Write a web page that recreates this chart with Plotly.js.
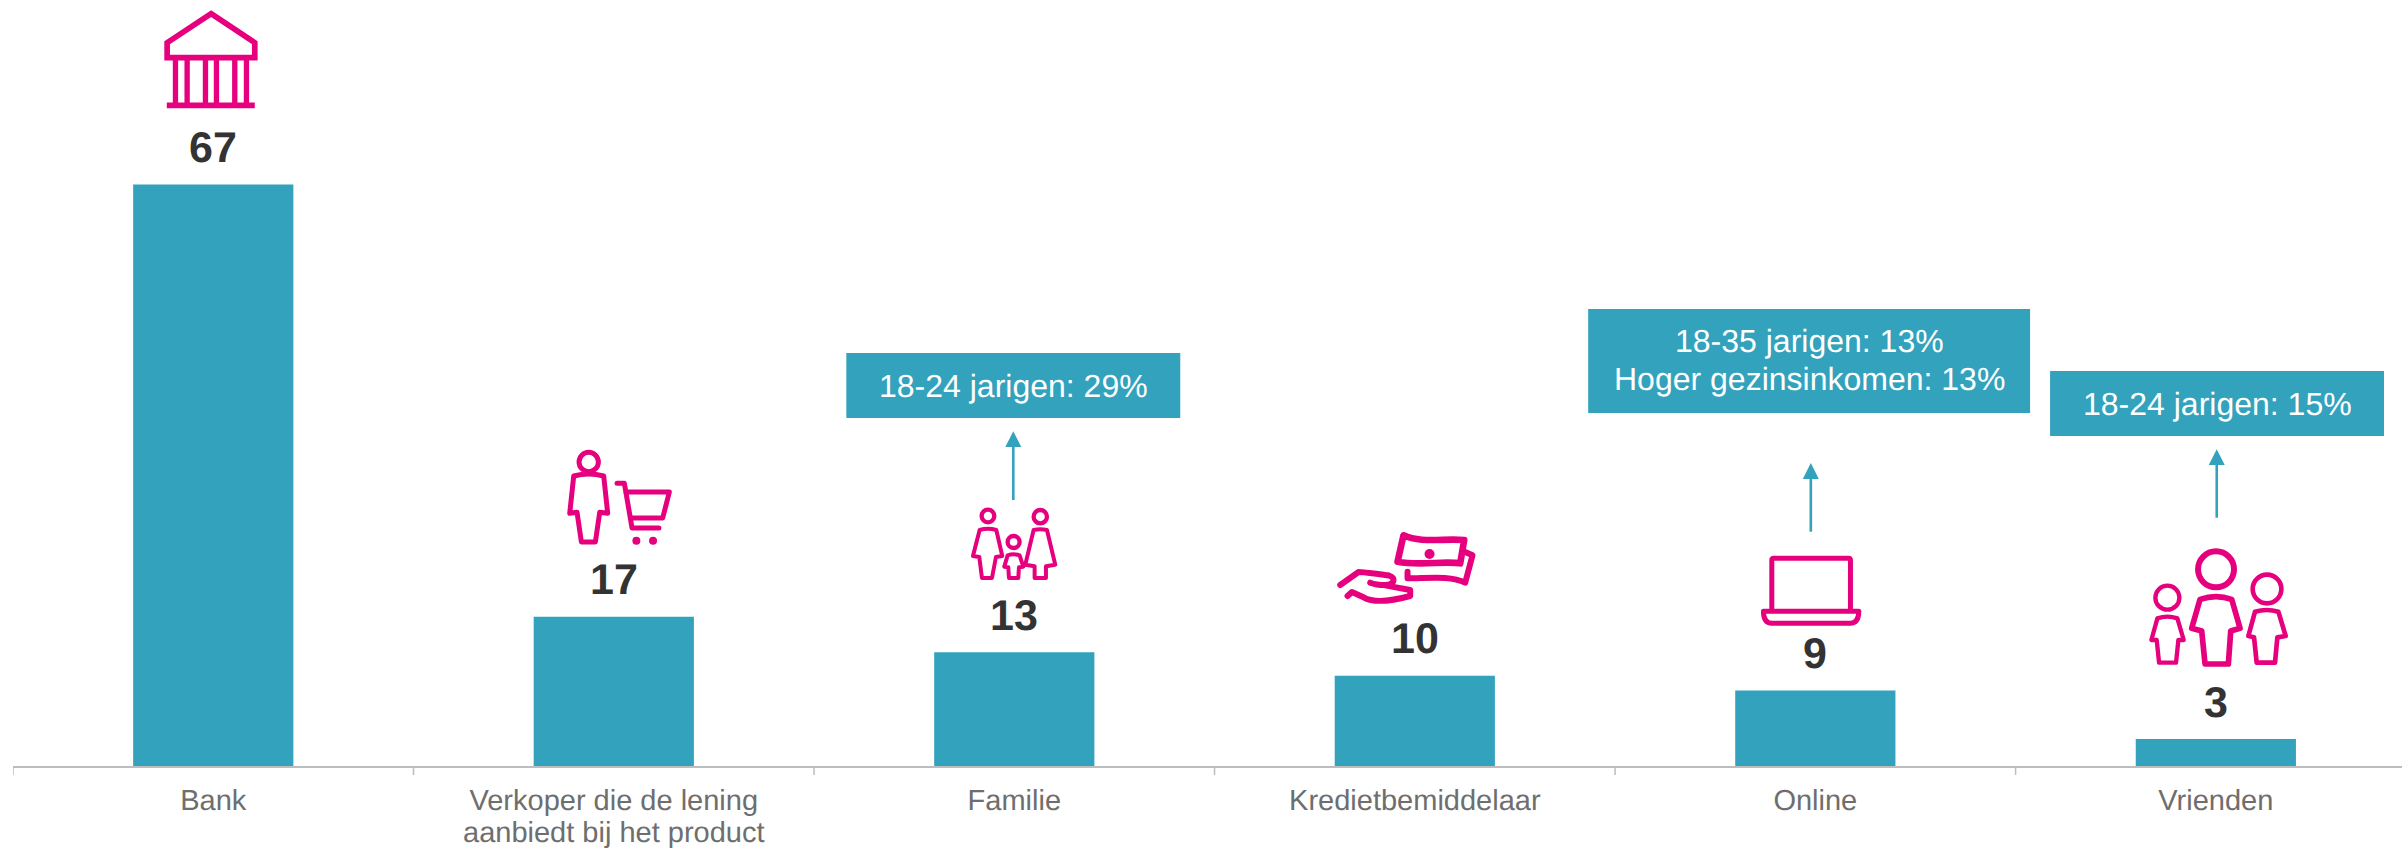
<!DOCTYPE html>
<html><head><meta charset="utf-8">
<script src="https://cdn.plot.ly/plotly-3.0.1.min.js"></script>
<style>html,body{margin:0;padding:0;background:#fff;overflow:hidden}#chart{width:2402px;height:849px}svg text{text-rendering:geometricPrecision}</style>
</head><body><div id="chart"></div>
<script>
const categories = ["Bank","Verkoper die de lening<br>aanbiedt bij het product","Familie","Kredietbemiddelaar","Online","Vrienden"];
const values = [67, 17.2, 13.1, 10.4, 8.7, 3.1];
const valueLabels = ["67","17","13","10","9","3"];
const callout1 = ["18-24 jarigen: 29%"];
const callout2 = ["18-35 jarigen: 13%","Hoger gezinsinkomen: 13%"];
const callout3 = ["18-24 jarigen: 15%"];

const TEAL="#32A2BD", PINK="#E6007E", DARK="#333333", GREY="#6E6E6E", AXIS="#BDBDBD";
const FONT='"Liberation Sans", Arial, sans-serif';
const W=2402,H=849,L=12.5,AX=766, PW=W-L, UNIT=400.6, YSCALE=581.4/67;
const px=x=>(x-L)/PW, py=y=>1-y/AX;

function icon(vw,vh,body,x,y,w,h){
  const svg=`<svg xmlns="http://www.w3.org/2000/svg" width="${vw}" height="${vh}" viewBox="0 0 ${vw} ${vh}"><g fill="none" stroke="${PINK}" stroke-linejoin="round" stroke-linecap="round">${body}</g></svg>`;
  return {source:'data:image/svg+xml;charset=utf-8,'+encodeURIComponent(svg),xref:'paper',yref:'paper',x:px(x),y:py(y),sizex:w/PW,sizey:h/AX,xanchor:'left',yanchor:'top',sizing:'stretch',layer:'above'};
}
const dot=(c,r,f)=>`<circle cx="${c[0]}" cy="${c[1]}" r="${r}" fill="${f}" stroke="none"/>`;
const images=[
 icon(600,600,`<path d="M272 41L403 128V173H140V128Z" stroke-width="17" stroke-linejoin="miter"/>
  <path d="M165 175V315M200 175V315M255 175V315M288 175V315M343 175V315M378 175V315" stroke-width="16" stroke-linecap="butt"/>
  <path d="M139 316H403" stroke-width="17" stroke-linecap="butt"/>`,120,0,200,200),
 icon(600,600,`<circle cx="205" cy="96" r="29" stroke-width="15"/>
  <path d="M160 138Q205 126 250 138L262 250L238 247L225 336H183L170 247L148 250Z" stroke-width="15"/>
  <path d="M290 160H312L335 294H416M316 186H447L427 264H331" stroke-width="15"/>
  ${dot([348,332],12,PINK)}${dot([398,332],12,PINK)}`,520,430,200,200),
 icon(600,600,`<circle cx="173" cy="108" r="19" stroke-width="13"/>
  <path d="M148 150Q173 143 198 150L216 228L197 231L185 294H155L147 231L128 228Z" stroke-width="12"/>
  <circle cx="250" cy="186" r="18" stroke-width="13"/>
  <path d="M232 226Q250 220 268 226L279 260L266 262L264 294H236L234 262L222 260Z" stroke-width="12"/>
  <circle cx="330" cy="110" r="20" stroke-width="13"/>
  <path d="M310 150Q330 145 350 150L375 254L347 259V294H313V259L285 254Z" stroke-width="12"/>`,930,480,200,200),
 icon(600,360,`<path d="M280 76C330 100 400 85 462 90L450 160C400 152 330 168 262 155Z" stroke-width="20"/>
  ${dot([358,132],15,PINK)}
  <path d="M465 126L487 136L465 218C420 195 350 205 292 205V185" stroke-width="18"/>
  <path d="M90 225L145 186C180 188 205 192 235 196C262 205 250 225 225 225C205 225 190 222 180 218" stroke-width="18"/>
  <path d="M112 258L125 246L160 262Q200 285 300 258V240L225 226" stroke-width="18"/>`,1310,510,200,120),
 icon(540,600,`<path d="M155 480V331Q155 325 161 325H385Q391 325 391 331V480" stroke-width="15"/>
  <path d="M130 484H416Q416 520 390 520H155Q130 520 130 484Z" stroke-width="15"/>`,1720,450,180,200),
 icon(540,720,`<circle cx="288" cy="388" r="54" stroke-width="18"/>
  <path d="M240 478Q288 462 335 478L360 565L332 573L325 672H255L245 573L215 565Z" stroke-width="17"/>
  <circle cx="142" cy="473" r="36" stroke-width="13"/>
  <path d="M112 535Q142 525 172 535L191 600L175 600L168 668H117L110 600L94 600Z" stroke-width="13"/>
  <circle cx="441" cy="447" r="43" stroke-width="14"/>
  <path d="M405 515Q440 505 475 515L497 588L472 592L465 668H410L402 592L385 588Z" stroke-width="14"/>`,2120,440,180,240)
];

const rect=(x0,y0,x1,y1)=>({type:'rect',xref:'paper',yref:'paper',x0:px(x0),x1:px(x1),y0:py(y0),y1:py(y1),fillcolor:TEAL,line:{width:0},layer:'above'});
const arrow=(x,tip,base,bottom)=>[
 {type:'line',xref:'paper',yref:'paper',x0:px(x),x1:px(x),y0:py(base),y1:py(bottom),line:{color:TEAL,width:2.6},layer:'above'},
 {type:'path',xref:'paper',yref:'paper',path:`M${px(x)},${py(tip)}L${px(x+8)},${py(base)}L${px(x-8)},${py(base)}Z`,fillcolor:TEAL,line:{width:0},layer:'above'}
];
const shapes=[rect(846,353,1180,418),rect(1588,309,2030,413),rect(2050,371,2384,436),
 ...arrow(1013,431.3,447,500),...arrow(1810.7,463,479,531.7),...arrow(2216.7,449.3,465,517.7)];

const calloutText=(t,cx,cy)=>({xref:'paper',yref:'paper',x:px(cx),y:py(cy),text:t,showarrow:false,xanchor:'center',yanchor:'middle',font:{family:FONT,size:32,color:'#fff'}});
const annotations=[
 ...values.map((v,i)=>({xref:'x',yref:'y',x:i,y:v,text:'<b>'+valueLabels[i]+'</b>',showarrow:false,xanchor:'center',yanchor:'bottom',yshift:10.5,font:{family:FONT,size:43,color:DARK}})),
 calloutText(callout1[0],1013,385.5),
 calloutText(callout2[0],1809,341),
 calloutText(callout2[1],1809,379),
 calloutText(callout3[0],2217,403.5)
];

Plotly.newPlot('chart',[{
  type:'bar',x:[0,1,2,3,4,5],y:values,marker:{color:TEAL,line:{width:0}},hoverinfo:'skip'
}],{
  width:W,height:H,paper_bgcolor:'#fff',plot_bgcolor:'#fff',showlegend:false,bargap:0.6,
  margin:{l:L,r:0,t:0,b:H-AX,pad:0},
  xaxis:{type:'linear',range:[-0.5,-0.5+PW/UNIT],tickmode:'array',tickvals:[0,1,2,3,4,5],ticktext:categories,ticks:'',showgrid:false,zeroline:false,
    showline:true,linecolor:AXIS,linewidth:2,tickfont:{family:FONT,size:29,color:GREY},automargin:false,ticklabelstandoff:7},
  yaxis:{range:[0,AX/YSCALE],visible:false,fixedrange:true},
  images,shapes:[...shapes,
    ...[-0.5,0.5,1.5,2.5,3.5,4.5].map(b=>({type:'line',xref:'x',yref:'paper',x0:b,x1:b,y0:0,y1:-9/AX,line:{color:AXIS,width:1.5},layer:'above'}))],
  annotations
},{staticPlot:true,displayModeBar:false}).then(()=>{
  document.querySelectorAll('.xtick tspan.line').forEach(t=>{ if(parseFloat(t.getAttribute('dy'))>0) t.setAttribute('dy','1.12em'); });
});
</script></body></html>
